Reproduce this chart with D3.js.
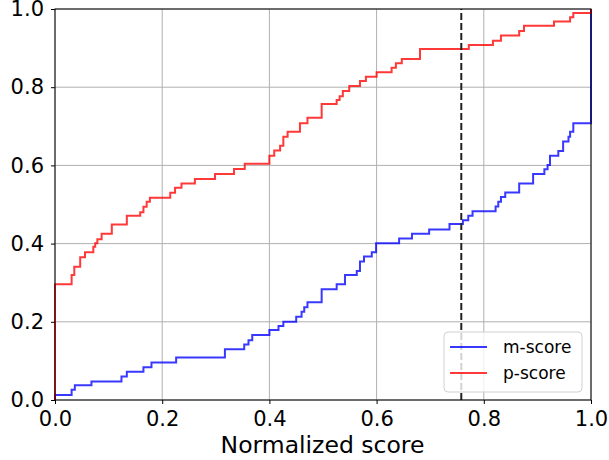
<!DOCTYPE html>
<html>
<head>
<meta charset="utf-8">
<script src="https://cdn.jsdelivr.net/npm/d3@7"></script>
<style>
  body { margin: 0; background: #fff; }
  svg { font-family: "DejaVu Sans", sans-serif; }
</style>
</head>
<body>
<svg id="chart" width="609" height="460"></svg>
<script>
// step points (x where the step happens, y after it)
const pScoreX = [0, 0, 0.031, 0.036, 0.047, 0.056, 0.0715, 0.075, 0.079, 0.087, 0.106, 0.134, 0.159, 0.165, 0.171, 0.177,
  0.215, 0.224, 0.236, 0.261, 0.2985, 0.334, 0.354, 0.400, 0.409, 0.420, 0.426, 0.434, 0.457, 0.471, 0.4975,
  0.5255, 0.531, 0.537, 0.549, 0.569, 0.580, 0.600, 0.628, 0.636, 0.647, 0.681, 0.772, 0.817, 0.832, 0.866,
  0.875, 0.931, 0.961, 0.967, 1.0, 1.0];
const pScoreY = [0, 0.296, 0.320, 0.341, 0.365, 0.378, 0.392, 0.401, 0.411, 0.425, 0.449, 0.471, 0.480, 0.494, 0.507, 0.517,
  0.530, 0.543, 0.554, 0.565, 0.578, 0.591, 0.604, 0.625, 0.638, 0.650, 0.673, 0.686, 0.708, 0.722, 0.757,
  0.767, 0.777, 0.790, 0.803, 0.816, 0.827, 0.838, 0.850, 0.861, 0.872, 0.898, 0.908, 0.919, 0.932, 0.944,
  0.957, 0.968, 0.979, 0.990, 0.990, 1.0];

const mScoreX = [0, 0, 0.031, 0.037, 0.068, 0.124, 0.134, 0.165, 0.180, 0.226, 0.317, 0.353, 0.361, 0.368, 0.400, 0.417,
  0.426, 0.450, 0.460, 0.465, 0.471, 0.4975, 0.5255, 0.541, 0.563, 0.569, 0.5765, 0.591, 0.599, 0.642, 0.666,
  0.698, 0.736, 0.761, 0.771, 0.779, 0.822, 0.827, 0.832, 0.840, 0.866, 0.892, 0.913, 0.919, 0.9235, 0.939,
  0.948, 0.958, 0.961, 0.967, 1.0, 1.0];
const mScoreY = [0, 0.013, 0.026, 0.038, 0.047, 0.060, 0.072, 0.084, 0.096, 0.109, 0.130, 0.142, 0.153, 0.166, 0.179, 0.189,
  0.200, 0.213, 0.226, 0.237, 0.250, 0.283, 0.296, 0.320, 0.330, 0.354, 0.367, 0.378, 0.401, 0.413, 0.425,
  0.436, 0.450, 0.460, 0.471, 0.483, 0.495, 0.507, 0.519, 0.531, 0.554, 0.578, 0.590, 0.601, 0.625, 0.637,
  0.661, 0.673, 0.686, 0.708, 0.708, 1.0];

const threshold = 0.758;
const ticks = [0, 0.2, 0.4, 0.6, 0.8, 1.0];
const seriesNames = ["m-score", "p-score"];
const seriesColors = ["#0000ff", "#ff0000"];

const margin = { top: 9, left: 55 };
const w = 536, h = 391;

const svg = d3.select("#chart");
const g = svg.append("g").attr("transform", "translate(" + margin.left + "," + margin.top + ")");

const x = d3.scaleLinear().domain([0, 1]).range([0, w]);
const y = d3.scaleLinear().domain([0, 1]).range([h, 0]);

// grid
g.append("g").selectAll("line").data(ticks).join("line")
  .attr("x1", d => x(d)).attr("x2", d => x(d)).attr("y1", 0).attr("y2", h)
  .attr("stroke", "#b0b0b0").attr("stroke-width", 1);
g.append("g").selectAll("line").data(ticks).join("line")
  .attr("y1", d => y(d)).attr("y2", d => y(d)).attr("x1", 0).attr("x2", w)
  .attr("stroke", "#b0b0b0").attr("stroke-width", 1);

// step lines
const stepLine = d3.line().curve(d3.curveStepAfter).x(d => x(d[0])).y(d => y(d[1]));
const mData = d3.zip(mScoreX, mScoreY);
const pData = d3.zip(pScoreX, pScoreY);
[mData, pData].forEach((data, i) => {
  g.append("path").datum(data)
    .attr("fill", "none")
    .attr("stroke", seriesColors[i])
    .attr("stroke-opacity", 0.78)
    .attr("stroke-width", 2)
    .attr("d", stepLine);
});

// threshold
g.append("line")
  .attr("x1", x(threshold)).attr("x2", x(threshold)).attr("y1", y(0)).attr("y2", y(1))
  .attr("stroke", "#222").attr("stroke-width", 2).attr("stroke-dasharray", "7,3");

// axes
const xAxis = g.append("g").attr("transform", "translate(0," + h + ")")
  .call(d3.axisBottom(x).tickValues(ticks).tickFormat(d3.format(".1f")).tickSize(4).tickPadding(7));
const yAxis = g.append("g")
  .call(d3.axisLeft(y).tickValues(ticks).tickFormat(d3.format(".1f")).tickSize(4).tickPadding(7));
[xAxis, yAxis].forEach(a => {
  a.select(".domain").remove();
  a.selectAll("text").attr("font-size", 21).attr("fill", "#000").attr("font-family", "DejaVu Sans");
  a.selectAll("line").attr("stroke", "#000");
});

// frame
g.append("rect").attr("width", w).attr("height", h)
  .attr("fill", "none").attr("stroke", "#000").attr("stroke-width", 1);

// x label
g.append("text")
  .attr("x", w / 2 - 0.5).attr("y", h + 53)
  .attr("text-anchor", "middle").attr("font-size", 23.5)
  .text("Normalized score");

// legend
const leg = g.append("g").attr("transform", "translate(" + (w - 147) + "," + (h - 68) + ")");
leg.append("rect").attr("width", 138).attr("height", 60).attr("rx", 4)
  .attr("fill", "#fff").attr("fill-opacity", 0.8).attr("stroke", "#d0d0d0");
seriesNames.forEach((name, i) => {
  leg.append("line")
    .attr("x1", 6).attr("x2", 43).attr("y1", 15 + i * 26).attr("y2", 15 + i * 26)
    .attr("stroke", seriesColors[i]).attr("stroke-opacity", 0.78).attr("stroke-width", 2);
  leg.append("text")
    .attr("x", 59).attr("y", 21 + i * 26)
    .attr("font-size", 17).text(name);
});
</script>
</body>
</html>
